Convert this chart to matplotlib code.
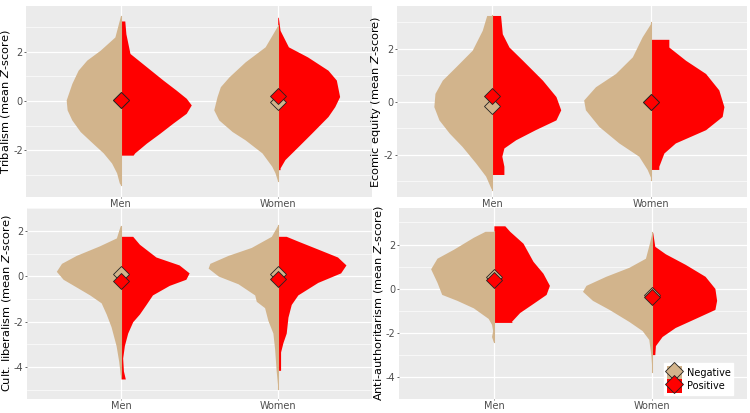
import matplotlib.pyplot as plt
from matplotlib.patches import Patch
from matplotlib.lines import Line2D

plt.rcParams['axes.unicode_minus'] = False

groups = ["Men", "Women"]
tan = "#D2B48C"
red = "#FF0000"

# violin outlines: (y values, half widths)
# Tribalism
tri_men_neg_y = [3.47, 2.6, 2.06, 1.66, 1.25, 0.71, 0.04, -0.36, -0.77, -1.24, -1.64, -2.11, -2.52, -2.92, -3.33, -3.4]
tri_men_neg_w = [0.0, 0.036, 0.13, 0.215, 0.27, 0.31, 0.346, 0.34, 0.31, 0.257, 0.19, 0.11, 0.057, 0.025, 0.008, 0.0]
tri_men_pos_y = [3.25, 2.73, 1.93, 1.39, 0.85, 0.44, 0.11, -0.16, -0.5, -0.9, -1.31, -1.71, -2.11, -2.2]
tri_men_pos_w = [0.027, 0.034, 0.06, 0.165, 0.27, 0.354, 0.418, 0.45, 0.418, 0.333, 0.25, 0.165, 0.09, 0.08]
tri_wom_neg_y = [3.07, 2.2, 1.59, 0.98, 0.58, 0.18, -0.36, -0.77, -1.24, -1.58, -2.11, -2.65, -2.92, -3.26]
tri_wom_neg_w = [0.0, 0.08, 0.207, 0.31, 0.365, 0.386, 0.407, 0.375, 0.29, 0.207, 0.10, 0.038, 0.017, 0.0]
tri_wom_pos_y = [3.4, 2.87, 2.2, 1.79, 1.25, 0.85, 0.18, -0.23, -0.63, -1.31, -1.85, -2.38, -2.72, -2.79]
tri_wom_pos_w = [0.004, 0.015, 0.068, 0.19, 0.32, 0.373, 0.394, 0.363, 0.32, 0.215, 0.13, 0.046, 0.015, 0.015]
tri_means_neg = [0.05, -0.03]
tri_means_pos = [0.05, 0.2]

# Ecomic equity
eco_men_neg_y = [3.25, 2.69, 1.94, 1.31, 0.81, 0.31, -0.19, -0.69, -1.19, -1.69, -2.31, -2.81, -3.25, -3.35]
eco_men_neg_w = [0.035, 0.063, 0.126, 0.23, 0.314, 0.36, 0.367, 0.335, 0.27, 0.19, 0.105, 0.042, 0.01, 0.0]
eco_men_pos_y = [3.25, 2.56, 2.06, 1.56, 0.81, 0.19, -0.31, -0.69, -1.06, -1.44, -1.75, -2.06, -2.44, -2.75]
eco_men_pos_w = [0.052, 0.063, 0.105, 0.19, 0.315, 0.4, 0.43, 0.4, 0.27, 0.147, 0.073, 0.06, 0.073, 0.073]
eco_wom_neg_y = [3.0, 2.44, 1.69, 1.06, 0.56, 0.06, -0.31, -0.94, -1.56, -2.06, -2.56, -2.94]
eco_wom_neg_w = [0.0, 0.059, 0.12, 0.226, 0.352, 0.426, 0.415, 0.33, 0.205, 0.08, 0.027, 0.0]
eco_wom_pos_y = [2.35, 2.06, 1.56, 1.06, 0.44, -0.19, -0.56, -1.06, -1.56, -1.94, -2.44, -2.56]
eco_wom_pos_w = [0.109, 0.109, 0.214, 0.34, 0.423, 0.455, 0.444, 0.34, 0.15, 0.078, 0.046, 0.046]
eco_means_neg = [-0.16, -0.02]
eco_means_pos = [0.21, 0.0]

# Cult. liberalism
cul_men_neg_y = [2.22, 1.69, 1.34, 0.92, 0.57, 0.22, -0.13, -0.47, -0.82, -1.17, -1.66, -2.22, -3.05, -3.75, -4.31, -4.45]
cul_men_neg_w = [0.006, 0.03, 0.138, 0.286, 0.38, 0.413, 0.37, 0.286, 0.2, 0.127, 0.095, 0.064, 0.032, 0.015, 0.006, 0.0]
cul_men_pos_y = [1.76, 1.41, 0.85, 0.5, 0.15, -0.13, -0.4, -0.82, -1.24, -1.66, -2.0, -2.5, -3.05, -3.6, -4.17, -4.52]
cul_men_pos_w = [0.074, 0.117, 0.222, 0.37, 0.434, 0.413, 0.307, 0.2, 0.159, 0.117, 0.074, 0.042, 0.021, 0.01, 0.015, 0.027]
cul_wom_neg_y = [2.27, 1.76, 1.27, 0.92, 0.57, 0.36, 0.01, -0.33, -0.82, -1.1, -1.38, -1.94, -2.5, -3.2, -4.17, -4.94]
cul_wom_neg_w = [0.0, 0.042, 0.17, 0.318, 0.434, 0.445, 0.38, 0.254, 0.148, 0.138, 0.085, 0.064, 0.032, 0.021, 0.011, 0.0]
cul_wom_pos_y = [1.76, 1.55, 1.2, 0.85, 0.5, 0.15, -0.27, -0.82, -1.24, -1.8, -2.5, -2.92, -3.33, -4.14]
cul_wom_pos_w = [0.053, 0.127, 0.254, 0.38, 0.434, 0.4, 0.254, 0.127, 0.085, 0.064, 0.053, 0.032, 0.017, 0.017]
cul_means_neg = [0.08, 0.1]
cul_means_pos = [-0.22, -0.1]

# Anti-authoritarism
ant_men_neg_y = [2.6, 2.33, 1.79, 1.38, 0.9, 0.29, -0.26, -0.53, -0.87, -1.35, -1.62, -1.9, -2.17, -2.41]
ant_men_neg_w = [0.056, 0.13, 0.255, 0.36, 0.4, 0.36, 0.33, 0.234, 0.13, 0.036, 0.015, 0.008, 0.015, 0.004]
ant_men_pos_y = [2.85, 2.6, 2.06, 1.24, 0.7, 0.15, -0.26, -0.67, -1.08, -1.49, -1.53]
ant_men_pos_w = [0.069, 0.1, 0.184, 0.247, 0.31, 0.351, 0.33, 0.247, 0.163, 0.11, 0.117]
ant_wom_neg_y = [2.58, 2.06, 1.38, 0.97, 0.56, 0.15, -0.12, -0.53, -0.94, -1.49, -1.9, -2.3, -2.99, -3.8]
ant_wom_neg_w = [0.0, 0.017, 0.042, 0.146, 0.293, 0.418, 0.44, 0.377, 0.272, 0.146, 0.063, 0.021, 0.008, 0.0]
ant_wom_pos_y = [2.54, 1.92, 1.58, 1.1, 0.56, 0.01, -0.53, -0.94, -1.35, -1.76, -2.17, -2.58, -2.99]
ant_wom_pos_w = [0.004, 0.017, 0.084, 0.21, 0.335, 0.397, 0.408, 0.397, 0.272, 0.146, 0.063, 0.021, 0.017]
ant_means_neg = [0.55, -0.28]
ant_means_pos = [0.4, -0.4]

panels = [
    dict(ylabel="Tribalism (mean $\\mathit{Z}$-score)", ylim=(-3.9, 3.85), yticks=[-2, 0, 2],
         rect=[0.035, 0.523, 0.461, 0.462],
         neg=[(tri_men_neg_y, tri_men_neg_w), (tri_wom_neg_y, tri_wom_neg_w)],
         pos=[(tri_men_pos_y, tri_men_pos_w), (tri_wom_pos_y, tri_wom_pos_w)],
         mneg=tri_means_neg, mpos=tri_means_pos),
    dict(ylabel="Ecomic equity (mean $\\mathit{Z}$-score)", ylim=(-3.6, 3.6), yticks=[-2, 0, 2],
         rect=[0.529, 0.523, 0.467, 0.462],
         neg=[(eco_men_neg_y, eco_men_neg_w), (eco_wom_neg_y, eco_wom_neg_w)],
         pos=[(eco_men_pos_y, eco_men_pos_w), (eco_wom_pos_y, eco_wom_pos_w)],
         mneg=eco_means_neg, mpos=eco_means_pos),
    dict(ylabel="Cult. liberalism (mean $\\mathit{Z}$-score)", ylim=(-5.4, 2.62), yticks=[-4, -2, 0, 2],
         rect=[0.036, 0.034, 0.460, 0.462],
         neg=[(cul_men_neg_y, cul_men_neg_w), (cul_wom_neg_y, cul_wom_neg_w)],
         pos=[(cul_men_pos_y, cul_men_pos_w), (cul_wom_pos_y, cul_wom_pos_w)],
         mneg=cul_means_neg, mpos=cul_means_pos),
    dict(ylabel="Anti-authoritarism (mean $\\mathit{Z}$-score)", ylim=(-4.2, 3.65), yticks=[-4, -2, 0, 2],
         rect=[0.532, 0.034, 0.464, 0.462],
         neg=[(ant_men_neg_y, ant_men_neg_w), (ant_wom_neg_y, ant_wom_neg_w)],
         pos=[(ant_men_pos_y, ant_men_pos_w), (ant_wom_pos_y, ant_wom_pos_w)],
         mneg=ant_means_neg, mpos=ant_means_pos),
]

fig = plt.figure(figsize=(7.5, 4.13), dpi=100)
for i, p in enumerate(panels):
    ax = fig.add_axes(p["rect"])
    ax.set_facecolor("#EBEBEB")
    for s in ax.spines.values():
        s.set_visible(False)
    ax.set_xlim(0.4, 2.6)
    ax.set_ylim(*p["ylim"])
    ax.set_yticks(p["yticks"])
    ax.set_yticks([t + 1 for t in p["yticks"][:-1]] + [p["yticks"][-1] + 1, p["yticks"][0] - 1], minor=True)
    ax.set_xticks([1, 2])
    ax.set_xticklabels(groups)
    ax.grid(True, which="major", color="white", lw=0.9)
    ax.grid(True, which="minor", axis="y", color="white", lw=0.45)
    ax.set_axisbelow(True)
    ax.tick_params(axis="y", which="major", labelsize=7, colors="#4D4D4D", length=1.5, width=0.6, pad=1)
    ax.tick_params(axis="x", which="major", labelsize=7, colors="#4D4D4D", length=1, width=0.6, pad=0.5)
    ax.tick_params(axis="both", which="minor", length=0)
    ax.set_ylabel(p["ylabel"], fontsize=8.2, labelpad=0.5)
    for k in range(2):
        xc = k + 1
        ny, nw = p["neg"][k]
        py, pw = p["pos"][k]
        ax.fill_betweenx(ny, [xc - w for w in nw], xc, color=tan, lw=0, zorder=2)
        ax.fill_betweenx(py, xc, [xc + w for w in pw], color=red, lw=0, zorder=2)
        ax.plot([xc, xc], [min(ny), max(ny)], color=tan, lw=0.8, zorder=2)
        ax.plot(xc, p["mneg"][k], marker="D", ms=8, mfc=tan, mec="#222222", mew=0.6, zorder=3)
        ax.plot(xc, p["mpos"][k], marker="D", ms=8, mfc=red, mec="#222222", mew=0.6, zorder=4)
    if i == 3:
        handles = [
            (Patch(facecolor=tan, edgecolor="none"), Line2D([], [], marker="D", ls="", ms=9, mfc=tan, mec="#222222", mew=0.6)),
            (Patch(facecolor=red, edgecolor="none"), Line2D([], [], marker="D", ls="", ms=9, mfc=red, mec="#222222", mew=0.6)),
        ]
        leg = ax.legend(handles, ["Negative", "Positive"], loc="lower right", bbox_to_anchor=(0.96, 0.02),
                        fontsize=7, frameon=True, fancybox=False, framealpha=1, edgecolor="white",
                        handlelength=1.55, handleheight=1.75, handletextpad=0.5, borderpad=0.25, labelspacing=0.0,
                        borderaxespad=0)

fig.savefig("out.png", dpi=100)
